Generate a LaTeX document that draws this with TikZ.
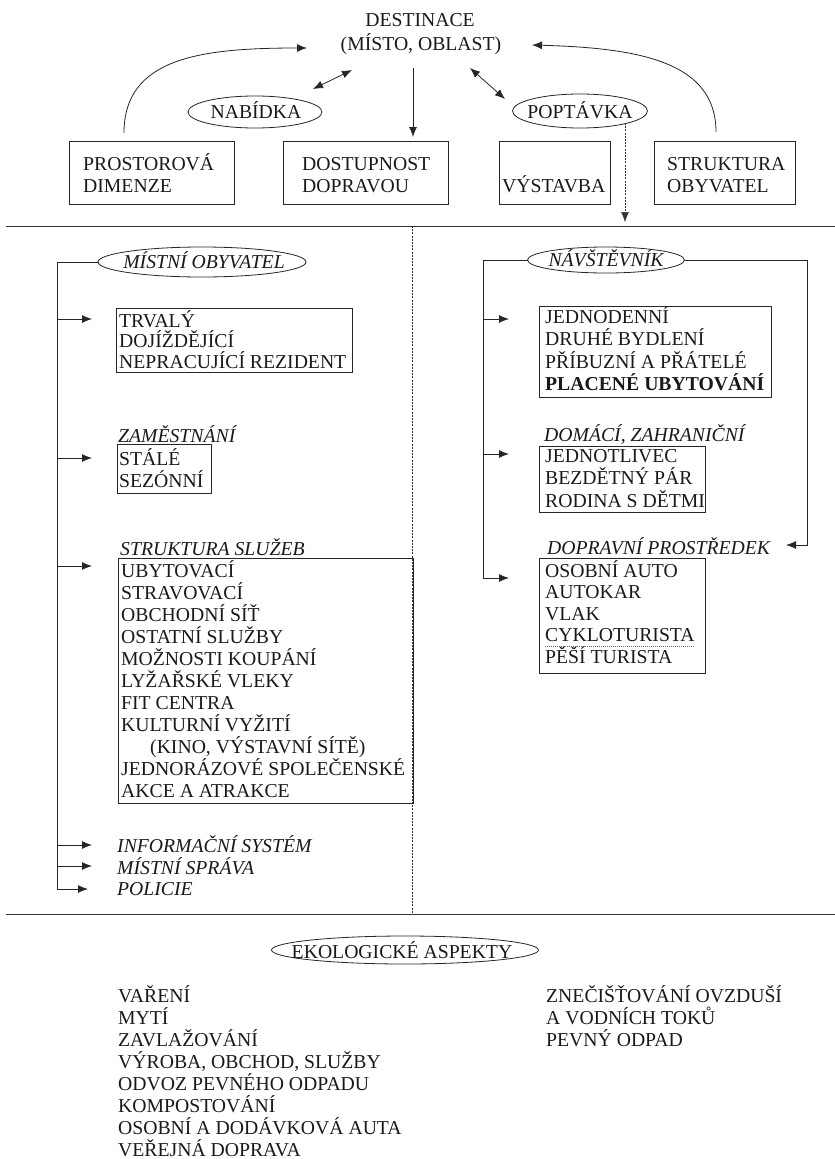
\documentclass[tikz,border=0pt]{standalone}
\usepackage{fontspec}
\setmainfont{Liberation Serif}
\usetikzlibrary{arrows.meta,shapes.geometric}
\begin{document}
\begin{tikzpicture}[x=1pt,y=-1pt,
  ln/.style={line width=0.8pt, draw=black!85},
  arr/.style={ln, -{Latex[length=10pt,width=8pt]}},
  darr/.style={ln, {Latex[length=10pt,width=8pt]}-{Latex[length=10pt,width=8pt]}},
  box/.style={ln, rectangle, inner sep=0pt, outer sep=0pt, anchor=north west},
  oval/.style={ln, ellipse, inner sep=0pt, outer sep=0pt},
  txt/.style={font=\fontsize{19.7}{22}\selectfont, inner sep=0pt, anchor=base west, text=black!90},
  ctxt/.style={txt, anchor=base},
  itxt/.style={txt, font=\fontsize{19.7}{22}\selectfont\itshape},
  btxt/.style={txt, font=\fontsize{19.7}{22}\selectfont\bfseries},
  hdiv/.style={line width=0.9pt, draw=black!80},
  vdiv/.style={line width=0.6pt, draw=black!80, dash pattern=on 2pt off 1.2pt},
  dotline/.style={line width=0.6pt, draw=black!60, dash pattern=on 1pt off 1pt}
]
\fill[white] (0,0) rectangle (835,1159);
\useasboundingbox (0,0) rectangle (835,1159);

% ---------- top ----------
\node[ctxt] (dest1) at (420,26) {DESTINACE};
\node[ctxt] (dest2) at (421,50) {(MÍSTO, OBLAST)};
\node[oval, minimum width=134, minimum height=32] (nab) at (255,112) {};
\node[ctxt] (nabt) at (256,118) {NABÍDKA};
\node[oval, minimum width=135, minimum height=34] (pop) at (580,111) {};
\node[ctxt] (popt) at (580,118) {POPTÁVKA};

\node[box, minimum width=165, minimum height=63] (b1) at (69,141) {};
\node[txt] (b1a) at (83,170) {PROSTOROVÁ};
\node[txt] (b1b) at (83,192) {DIMENZE};
\node[box, minimum width=165, minimum height=63] (b2) at (283,141) {};
\node[txt] (b2a) at (302,170) {DOSTUPNOST};
\node[txt] (b2b) at (302,192) {DOPRAVOU};
\node[box, minimum width=111, minimum height=63] (b3) at (499,141) {};
\node[txt] (b3a) at (502,192) {VÝSTAVBA};
\node[box, minimum width=141, minimum height=63] (b4) at (654,141) {};
\node[txt] (b4a) at (667,170) {STRUKTURA};
\node[txt] (b4b) at (667,192) {OBYVATEL};

\coordinate (c1s) at (124,133);
\coordinate (c1e) at (307,48);
\draw[arr] (c1s) .. controls (124,58) and (200,48) .. (c1e);
\coordinate (c2s) at (716,132);
\coordinate (c2e) at (532,45);
\draw[arr] (c2s) .. controls (716,62) and (640,48) .. (c2e);
\coordinate (d1a) at (313,89);
\coordinate (d1b) at (352,70);
\draw[darr] (d1a) -- (d1b);
\coordinate (d2a) at (470,68);
\coordinate (d2b) at (505,99);
\draw[darr] (d2a) -- (d2b);
\coordinate (dn) at (413,68);
\draw[arr, shorten >=4pt] (dn) -- (dn |- b2.north);
\coordinate (pd) at (625,123);
\coordinate (pe) at (625,222);
\draw[arr, vdiv] (pd) -- (pe);

% ---------- dividers ----------
\coordinate (h1a) at (6,226);
\coordinate (h1b) at (835,226);
\draw[hdiv] (h1a) -- (h1b);
\coordinate (h2a) at (6,914);
\coordinate (h2b) at (835,914);
\draw[hdiv] (h2a) -- (h2b);
\coordinate (vt) at (412.5,226);
\coordinate (vb) at (412.5,914);
\draw[vdiv] (vt) -- (vb);

% ---------- left: local residents ----------
\node[oval, minimum width=208, minimum height=30] (mo) at (202,262) {};
\node[itxt, anchor=base] (mot) at (204,268) {MÍSTNÍ OBYVATEL};
\coordinate (lpol) at (88,889);
\draw[arr] (mo.west) -- ++(-41,0) |- (lpol);
\foreach \yy/\nm in {319/a, 458/b, 566/c, 845/d, 866/e} {
  \coordinate (ls\nm) at (57,\yy);
  \coordinate (le\nm) at (92,\yy);
  \draw[arr] (ls\nm) -- (le\nm);
}

\node[box, minimum width=236, minimum height=64] (trv) at (116,308) {};
\node[txt] (trv1) at (119,327) {TRVALÝ};
\node[txt] (trv2) at (119,347.5) {DOJÍŽDĚJÍCÍ};
\node[txt] (trv3) at (119,368) {NEPRACUJÍCÍ REZIDENT};

\node[itxt] (zam) at (118,442) {ZAMĚSTNÁNÍ};
\node[box, minimum width=94, minimum height=49] (sta) at (117,444) {};
\node[txt] (sta1) at (119,465) {STÁLÉ};
\node[txt] (sta2) at (119,487) {SEZÓNNÍ};

\node[itxt] (sts) at (120,555) {STRUKTURA SLUŽEB};
\node[box, minimum width=295, minimum height=245] (slu) at (118,558) {};
\foreach \t [count=\i from 0] in {UBYTOVACÍ, STRAVOVACÍ, OBCHODNÍ SÍŤ, OSTATNÍ SLUŽBY, MOŽNOSTI KOUPÁNÍ, LYŽAŘSKÉ VLEKY, FIT CENTRA, KULTURNÍ VYŽITÍ}
  \node[txt] (slu\i) at (121,577+22*\i) {\t};
\node[txt] (slu8) at (150,753) {(KINO, VÝSTAVNÍ SÍTĚ)};
\node[txt] (slu9) at (121,775) {JEDNORÁZOVÉ SPOLEČENSKÉ};
\node[txt] (slu10) at (121,797) {AKCE A ATRAKCE};

\node[itxt] (inf) at (117,852) {INFORMAČNÍ SYSTÉM};
\node[itxt] (spr) at (117,874) {MÍSTNÍ SPRÁVA};
\node[itxt] (pol) at (117,895) {POLICIE};

% ---------- right: visitors ----------
\node[oval, minimum width=157, minimum height=26] (nav) at (606,260) {};
\node[itxt, anchor=base] (navt) at (606,266) {NÁVŠTĚVNÍK};
\coordinate (rlast) at (509,578);
\draw[arr] (nav.west) -- ++(-44,0) |- (rlast);
\coordinate (rdop) at (786,545);
\draw[arr] (nav.east) -- ++(122.5,0) |- (rdop);
\foreach \yy/\nm in {319/a, 454/b} {
  \coordinate (rs\nm) at (484,\yy);
  \coordinate (re\nm) at (509,\yy);
  \draw[arr] (rs\nm) -- (re\nm);
}

\node[box, minimum width=232, minimum height=91] (jed) at (539,306) {};
\node[txt] (jed1) at (545,323) {JEDNODENNÍ};
\node[txt] (jed2) at (545,345.5) {DRUHÉ BYDLENÍ};
\node[txt] (jed3) at (545,368) {PŘÍBUZNÍ A PŘÁTELÉ};
\node[btxt] (jed4) at (545,390) {PLACENÉ UBYTOVÁNÍ};

\node[itxt] (dom) at (544,441) {DOMÁCÍ, ZAHRANIČNÍ};
\node[box, minimum width=166, minimum height=66] (jno) at (539,446) {};
\node[txt] (jno1) at (545,462) {JEDNOTLIVEC};
\node[txt] (jno2) at (545,484.5) {BEZDĚTNÝ PÁR};
\node[txt] (jno3) at (545,507) {RODINA S DĚTMI};

\node[itxt] (dop) at (547,554) {DOPRAVNÍ PROSTŘEDEK};
\node[box, minimum width=166, minimum height=115] (oso) at (539,558) {};
\node[txt] (oso1) at (545,577) {OSOBNÍ AUTO};
\node[txt] (oso2) at (545,598.5) {AUTOKAR};
\node[txt] (oso3) at (545,620) {VLAK};
\node[txt] (oso4) at (545,641.5) {CYKLOTURISTA};
\node[txt] (oso5) at (545,663) {PĚŠÍ TURISTA};
\coordinate (ula) at (545,646);
\coordinate (ulb) at (695,646);
\draw[dotline] (ula) -- (ulb);

% ---------- bottom: ecology ----------
\node[oval, minimum width=267, minimum height=28] (eko) at (405,950) {};
\node[ctxt] (ekot) at (402,958) {EKOLOGICKÉ ASPEKTY};
\foreach \t [count=\i from 0] in {VAŘENÍ, MYTÍ, ZAVLAŽOVÁNÍ, {VÝROBA, OBCHOD, SLUŽBY}, ODVOZ PEVNÉHO ODPADU, KOMPOSTOVÁNÍ, OSOBNÍ A DODÁVKOVÁ AUTA, VEŘEJNÁ DOPRAVA}
  \node[txt] (ekl\i) at (118,1002+22*\i) {\t};
\foreach \t [count=\i from 0] in {ZNEČIŠŤOVÁNÍ OVZDUŠÍ, A VODNÍCH TOKŮ, PEVNÝ ODPAD}
  \node[txt] (ekr\i) at (546,1002+22*\i) {\t};
\end{tikzpicture}
\end{document}
